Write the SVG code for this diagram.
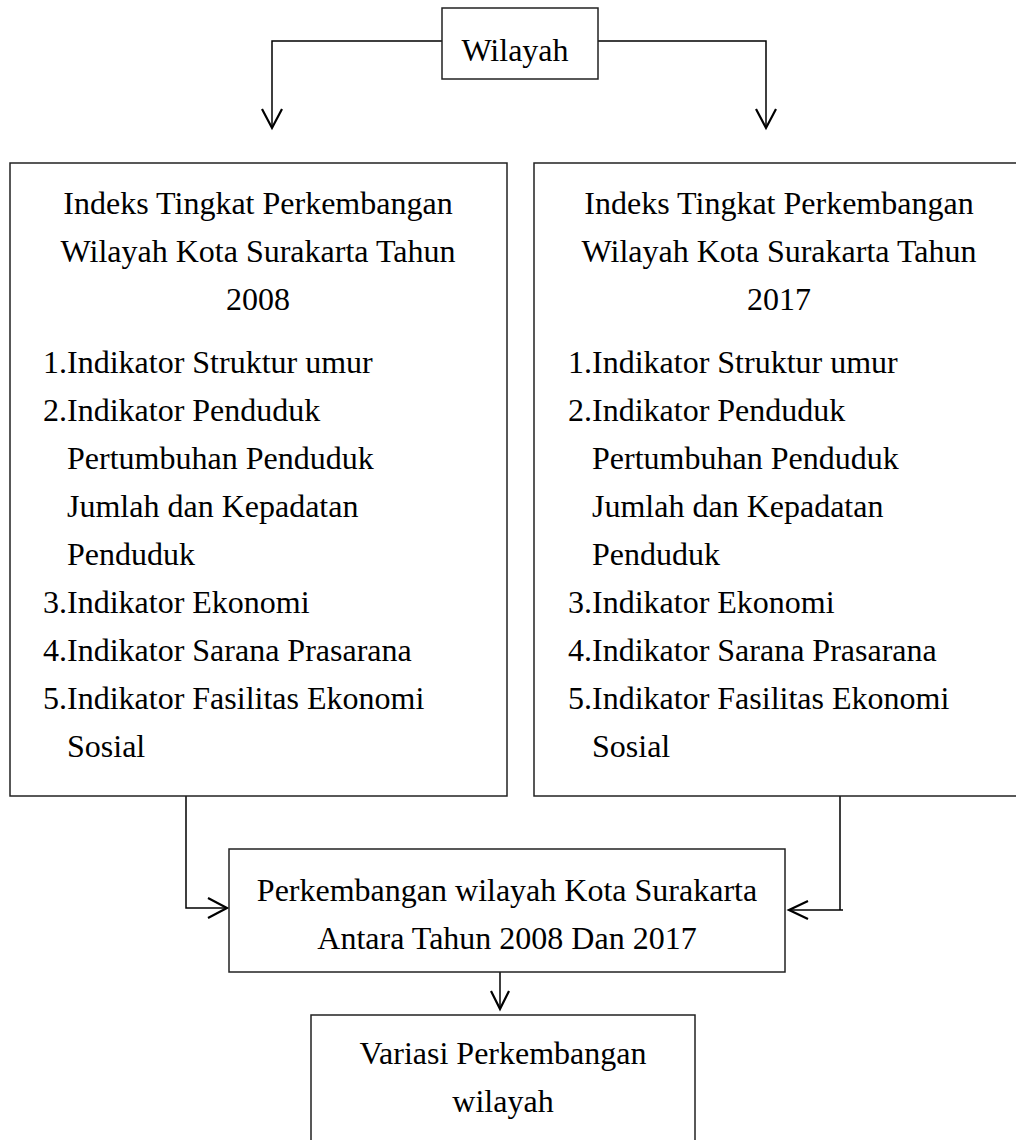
<svg xmlns="http://www.w3.org/2000/svg" width="1016" height="1140" viewBox="0 0 1016 1140">
<style>
.box{fill:#fff;stroke:#222;stroke-width:1.5}
.t{font-family:"Liberation Serif","Times New Roman",serif;font-size:32px;fill:#000}
.c{text-anchor:middle}
.ln{fill:none;stroke:#000;stroke-width:1.5}
.ah{fill:none;stroke:#000;stroke-width:2.2}
</style>
<rect width="1016" height="1140" fill="#fff"/>
<g id="connectors">
<path class="ln" d="M442,41 H272 V127"/>
<path class="ah" d="M262,109 L272,128 L282,109"/>
<path class="ln" d="M598,41 H766 V127"/>
<path class="ah" d="M756,109 L766,128 L776,109"/>
<path class="ln" d="M186,796 V908 H226"/>
<path class="ah" d="M208,898 L227,908 L208,918"/>
<path class="ln" d="M840,796 V910 H843 M840,910 H790"/>
<path class="ah" d="M808,901 L789,910 L808,919"/>
<path class="ln" d="M500,972 V1008"/>
<path class="ah" d="M491,991 L500,1009 L509,991"/>
</g>
<g id="wilayah">
<rect class="box" x="442" y="8" width="156" height="71"/>
<text class="t c" x="515" y="61">Wilayah</text>
</g>
<g id="indeks2008">
<rect class="box" x="10" y="163" width="497" height="633"/>
<text class="t c" x="258" y="214">Indeks Tingkat Perkembangan</text>
<text class="t c" x="258" y="262">Wilayah Kota Surakarta Tahun</text>
<text class="t c" x="258" y="310">2008</text>
<text class="t" x="43" y="373">1.Indikator Struktur umur</text>
<text class="t" x="43" y="421">2.Indikator Penduduk</text>
<text class="t" x="67" y="469">Pertumbuhan Penduduk</text>
<text class="t" x="67" y="517">Jumlah dan Kepadatan</text>
<text class="t" x="67" y="565">Penduduk</text>
<text class="t" x="43" y="613">3.Indikator Ekonomi</text>
<text class="t" x="43" y="661">4.Indikator Sarana Prasarana</text>
<text class="t" x="43" y="709">5.Indikator Fasilitas Ekonomi</text>
<text class="t" x="67" y="757">Sosial</text>
</g>
<g id="indeks2017">
<rect class="box" x="534" y="163" width="500" height="633"/>
<text class="t c" x="779" y="214">Indeks Tingkat Perkembangan</text>
<text class="t c" x="779" y="262">Wilayah Kota Surakarta Tahun</text>
<text class="t c" x="779" y="310">2017</text>
<text class="t" x="568" y="373">1.Indikator Struktur umur</text>
<text class="t" x="568" y="421">2.Indikator Penduduk</text>
<text class="t" x="592" y="469">Pertumbuhan Penduduk</text>
<text class="t" x="592" y="517">Jumlah dan Kepadatan</text>
<text class="t" x="592" y="565">Penduduk</text>
<text class="t" x="568" y="613">3.Indikator Ekonomi</text>
<text class="t" x="568" y="661">4.Indikator Sarana Prasarana</text>
<text class="t" x="568" y="709">5.Indikator Fasilitas Ekonomi</text>
<text class="t" x="592" y="757">Sosial</text>
</g>
<g id="perkembangan">
<rect class="box" x="229" y="849" width="556" height="123"/>
<text class="t c" x="507" y="901">Perkembangan wilayah Kota Surakarta</text>
<text class="t c" x="507" y="949">Antara Tahun 2008 Dan 2017</text>
</g>
<g id="variasi">
<rect class="box" x="311" y="1015" width="384" height="140"/>
<text class="t c" x="503" y="1064">Variasi Perkembangan</text>
<text class="t c" x="503" y="1112">wilayah</text>
</g>
</svg>
